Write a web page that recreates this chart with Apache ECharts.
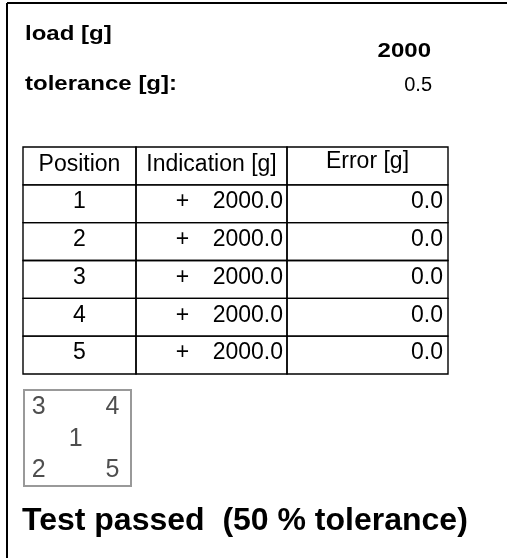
<!doctype html>
<html lang="en">
<head>
    <meta charset="utf-8">
    <title>Corner load test</title>
    <script src="https://cdn.jsdelivr.net/npm/echarts@6/dist/echarts.min.js"></script>
    <style>
        html, body { margin: 0; padding: 0; background: #fff; }
        #main { width: 507px; height: 558px; }
    </style>
</head>
<body>
    <div id="main"></div>
    <script>
        // values
        var loadG = 2000;
        var toleranceG = 0.5;
        var headers = ['Position', 'Indication [g]', 'Error [g]'];
        var positions = ['1', '2', '3', '4', '5'];
        var indications = [2000.0, 2000.0, 2000.0, 2000.0, 2000.0];
        var errors = [0.0, 0.0, 0.0, 0.0, 0.0];
        // where each load position sits on the pan (column, row from bottom)
        var pointX = [1, 0, 0, 2, 2];
        var pointY = [1, 0, 2, 2, 0];
        var resultText = 'Test passed  (50 % tolerance)';

        var FONT = '"Liberation Sans", Arial, sans-serif';
        var colEdges = [0, 113, 264, 425];

        // one item per table cell: [x0, x1, row, col]
        var cells = [];
        for (var r = 0; r <= positions.length; r++) {
            for (var c = 0; c < headers.length; c++) {
                cells.push([colEdges[c], colEdges[c + 1], r, c]);
            }
        }

        function renderCell(params, api) {
            var x0 = api.value(0), x1 = api.value(1), r = api.value(2), c = api.value(3);
            var p0 = api.coord([x0, r]);
            var p1 = api.coord([x1, r + 1]);
            var midY = (p0[1] + p1[1]) / 2;
            var font = '23px ' + FONT;
            var children = [{
                type: 'rect',
                shape: { x: p0[0], y: p0[1], width: p1[0] - p0[0], height: p1[1] - p0[1] },
                style: { fill: 'none', stroke: '#000', lineWidth: 1.4 }
            }];
            function txt(s, x, align, dy) {
                children.push({
                    type: 'text',
                    style: { text: s, x: x, y: midY + dy, align: align, verticalAlign: 'middle', font: font, fill: '#000' }
                });
            }
            if (r === 0) {
                txt(headers[c], (p0[0] + p1[0]) / 2, 'center', c === 2 ? -4 : -1);
            } else {
                var i = r - 1;
                if (c === 0) {
                    txt(positions[i], (p0[0] + p1[0]) / 2, 'center', -2);
                } else if (c === 1) {
                    txt('+', p0[0] + 46.5, 'center', -2);
                    txt(indications[i].toFixed(1), p1[0] - 4, 'right', -2);
                } else {
                    txt(errors[i].toFixed(1), p1[0] - 5, 'right', -2);
                }
            }
            return { type: 'group', children: children };
        }

        var myChart = echarts.init(document.getElementById('main'));

        var option = {
            animation: false,
            grid: [
                { left: 23, top: 147, width: 425, height: 227, show: false },
                { left: 24, top: 390, width: 107, height: 96, show: true, borderColor: '#999', borderWidth: 2, backgroundColor: 'transparent' }
            ],
            xAxis: [
                { gridIndex: 0, type: 'value', min: 0, max: 425, show: false },
                { gridIndex: 1, type: 'value', min: -0.4, max: 2.5, show: false }
            ],
            yAxis: [
                { gridIndex: 0, type: 'value', min: 0, max: positions.length + 1, inverse: true, show: false },
                { gridIndex: 1, type: 'value', min: -0.5, max: 2.55, show: false }
            ],
            series: [
                {
                    type: 'custom',
                    xAxisIndex: 0,
                    yAxisIndex: 0,
                    renderItem: renderCell,
                    encode: { x: [0, 1], y: 2 },
                    data: cells
                },
                {
                    type: 'scatter',
                    xAxisIndex: 1,
                    yAxisIndex: 1,
                    symbolSize: 0,
                    label: {
                        show: true,
                        position: 'inside',
                        formatter: '{b}',
                        fontSize: 25,
                        fontFamily: FONT,
                        color: '#222'
                    },
                    data: positions.map(function (p, i) {
                        return { name: p, value: [pointX[i], pointY[i]] };
                    })
                }
            ],
            graphic: [
                { type: 'line', shape: { x1: 7, y1: 3, x2: 507, y2: 3 }, style: { stroke: '#000', lineWidth: 2 } },
                { type: 'line', shape: { x1: 7, y1: 3, x2: 7, y2: 558 }, style: { stroke: '#000', lineWidth: 2 } },
                { type: 'text', x: 25, y: 34.5, scaleX: 1.2,
                  style: { text: 'load [g]', font: 'bold 20px ' + FONT, align: 'left', verticalAlign: 'middle', fill: '#000' } },
                { type: 'text', x: 431, y: 51.5, scaleX: 1.2,
                  style: { text: String(loadG), font: 'bold 20px ' + FONT, align: 'right', verticalAlign: 'middle', fill: '#000' } },
                { type: 'text', x: 25, y: 84.5, scaleX: 1.2,
                  style: { text: 'tolerance [g]:', font: 'bold 20px ' + FONT, align: 'left', verticalAlign: 'middle', fill: '#000' } },
                { type: 'text', x: 432, y: 85,
                  style: { text: String(toleranceG), font: '20px ' + FONT, align: 'right', verticalAlign: 'middle', fill: '#000' } },
                { type: 'text', x: 22, y: 521,
                  style: { text: resultText, font: 'bold 32px ' + FONT, align: 'left', verticalAlign: 'middle', fill: '#000' } }
            ]
        };

        myChart.setOption(option);
    </script>
</body>
</html>
